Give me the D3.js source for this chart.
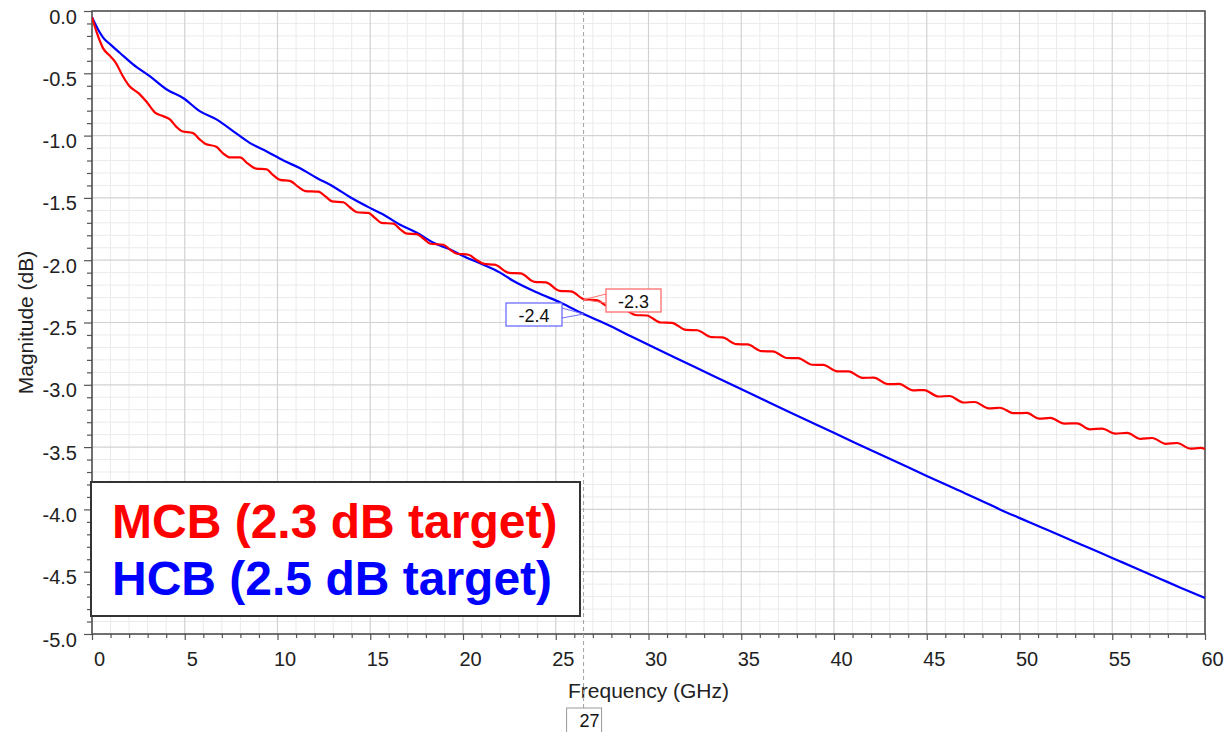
<!DOCTYPE html>
<html>
<head>
<meta charset="utf-8">
<script src="https://cdn.jsdelivr.net/npm/d3@7"></script>
<style>
  html, body { margin: 0; padding: 0; background: #ffffff; }
  svg { display: block; font-family: "Liberation Sans", Arial, sans-serif; }
</style>
</head>
<body>
<svg id="chart" width="1225" height="732"></svg>
<script>
// ---------------- data ----------------
const xTickValues = [0, 5, 10, 15, 20, 25, 30, 35, 40, 45, 50, 55, 60];
const yTickValues = [0, -0.5, -1.0, -1.5, -2.0, -2.5, -3.0, -3.5, -4.0, -4.5, -5.0];
const yTickLabels = ["0.0", "-0.5", "-1.0", "-1.5", "-2.0", "-2.5", "-3.0", "-3.5", "-4.0", "-4.5", "-5.0"];
const seriesNames = ["MCB (2.3 dB target)", "HCB (2.5 dB target)"];

const mcbFreq = [0.00, 0.25, 0.60, 1.00, 1.30, 1.65, 2.00, 2.55, 2.95, 3.40, 3.85, 4.20, 4.55, 4.85, 5.45,
  5.80, 6.10, 6.70, 7.05, 7.45, 7.98, 8.40, 8.85, 9.40, 9.75, 10.14, 10.70, 11.10, 11.50, 12.20,
  12.60, 12.95, 13.55, 13.90, 14.28, 14.90, 15.25, 15.60, 16.25, 16.60, 16.97, 17.50, 17.90, 18.25,
  18.95, 19.30, 19.68, 20.30, 20.70, 21.14, 21.70, 22.50, 23.10, 23.86, 24.46, 25.22, 25.82, 26.58,
  27.18, 27.94, 28.54, 29.30, 29.90, 30.66, 31.26, 32.02, 32.62, 33.38, 33.98, 34.74, 35.34, 36.10,
  36.70, 37.46, 38.06, 38.82, 39.42, 40.18, 40.78, 41.54, 42.14, 42.90, 43.50, 44.26, 44.86, 45.62,
  46.22, 46.98, 47.58, 48.34, 48.94, 49.70, 50.40, 51.06, 51.66, 52.42, 53.10, 53.80, 54.45, 55.16,
  55.80, 56.52, 57.15, 57.88, 58.50, 59.22, 59.76, 60.00];
const mcbMag = [-0.050, -0.170, -0.300, -0.365, -0.420, -0.520, -0.600, -0.665, -0.730, -0.815, -0.845, -0.870, -0.930, -0.965, -0.980,
  -1.030, -1.065, -1.090, -1.140, -1.175, -1.175, -1.225, -1.265, -1.270, -1.315, -1.355, -1.365, -1.410, -1.445, -1.450,
  -1.490, -1.528, -1.535, -1.575, -1.615, -1.620, -1.660, -1.700, -1.707, -1.750, -1.787, -1.790, -1.830, -1.868,
  -1.876, -1.915, -1.948, -1.956, -1.995, -2.030, -2.036, -2.102, -2.106, -2.174, -2.178, -2.246, -2.250, -2.317,
  -2.321, -2.379, -2.383, -2.440, -2.444, -2.500, -2.503, -2.559, -2.562, -2.617, -2.620, -2.674, -2.676, -2.730,
  -2.732, -2.785, -2.786, -2.839, -2.840, -2.892, -2.892, -2.944, -2.943, -2.995, -2.993, -3.045, -3.042, -3.094,
  -3.090, -3.142, -3.138, -3.189, -3.184, -3.228, -3.226, -3.272, -3.266, -3.311, -3.309, -3.357, -3.351, -3.392,
  -3.386, -3.434, -3.427, -3.474, -3.467, -3.513, -3.507, -3.515];

const hcbFreq = [0.00, 0.30, 0.61, 1.00, 1.51, 2.23, 3.13, 4.03, 4.93, 5.83, 6.73, 7.62, 8.52, 9.42, 10.32,
  11.22, 12.12, 13.02, 13.92, 14.82, 15.72, 16.61, 17.51, 18.41, 19.31, 20.20, 21.10, 22.00, 22.70, 24.00,
  25.30, 26.50, 27.80, 29.05, 30.30, 31.50, 33.00, 34.50, 36.00, 37.50, 39.00, 40.50, 42.00, 43.50, 45.00,
  46.50, 48.00, 48.97, 50.05, 51.13, 52.20, 53.28, 54.36, 55.44, 56.52, 57.60, 58.68, 60.00];
const hcbMag = [-0.050, -0.140, -0.215, -0.270, -0.337, -0.430, -0.525, -0.630, -0.700, -0.806, -0.872, -0.966, -1.060, -1.127, -1.200,
  -1.262, -1.340, -1.410, -1.495, -1.568, -1.635, -1.715, -1.780, -1.860, -1.915, -1.980, -2.036, -2.100, -2.165, -2.260,
  -2.343, -2.432, -2.518, -2.610, -2.700, -2.786, -2.893, -3.000, -3.106, -3.212, -3.317, -3.421, -3.525, -3.628, -3.731,
  -3.833, -3.934, -4.002, -4.072, -4.141, -4.210, -4.279, -4.348, -4.418, -4.488, -4.558, -4.628, -4.711];

const markerFreq = 26.5;
const markerLabel = "27";
const markerValues = [-2.317, -2.432];
const markerTexts = ["-2.3", "-2.4"];

(function () {
// ---------------- layout ----------------
const svg = d3.select("#chart");
const pL = 92, pR = 1205, pT = 11, pB = 634;
const x = d3.scaleLinear().domain([0, 60]).range([pL, pR]);
const y = d3.scaleLinear().domain([-5, 0]).range([pB, pT]);
const colors = ["#ff0000", "#0000ff"];

svg.append("rect").attr("width", 1225).attr("height", 732).attr("fill", "#fff");

// grid
const minorX = d3.range(0, 61).filter(v => v % 5 !== 0);
const minorY = d3.range(0, 51).filter(v => v % 5 !== 0).map(v => -v / 10);
const grid = svg.append("g");
grid.selectAll(".mx").data(minorX).join("line")
  .attr("x1", d => x(d)).attr("x2", d => x(d)).attr("y1", pT).attr("y2", pB)
  .attr("stroke", "#ebebeb").attr("stroke-width", 1);
grid.selectAll(".my").data(minorY).join("line")
  .attr("y1", d => y(d)).attr("y2", d => y(d)).attr("x1", pL).attr("x2", pR)
  .attr("stroke", "#ebebeb").attr("stroke-width", 1);
grid.selectAll(".Mx").data(xTickValues).join("line")
  .attr("x1", d => x(d)).attr("x2", d => x(d)).attr("y1", pT).attr("y2", pB)
  .attr("stroke", "#d2d2d2").attr("stroke-width", 1.2);
grid.selectAll(".My").data(yTickValues).join("line")
  .attr("y1", d => y(d)).attr("y2", d => y(d)).attr("x1", pL).attr("x2", pR)
  .attr("stroke", "#d2d2d2").attr("stroke-width", 1.2);

// axes
const yMinorAxis = svg.append("g").attr("transform", `translate(${pL},0)`)
  .call(d3.axisLeft(y).tickValues(minorY).tickSize(5).tickFormat(""));
const yAxis = svg.append("g").attr("transform", `translate(${pL},0)`)
  .call(d3.axisLeft(y).tickValues(yTickValues).tickSize(8).tickPadding(7)
    .tickFormat((d, i) => yTickLabels[i]));
const xMinorAxis = svg.append("g").attr("transform", `translate(0,${pB})`)
  .call(d3.axisBottom(x).tickValues(minorX).tickSize(4).tickFormat(""));
const xAxis = svg.append("g").attr("transform", `translate(0,${pB})`)
  .call(d3.axisBottom(x).tickValues(xTickValues).tickSize(6).tickPadding(12).tickFormat(d3.format("d")));
[yMinorAxis, yAxis, xMinorAxis, xAxis].forEach(g => {
  g.select(".domain").remove();
  g.selectAll("line").attr("stroke", "#555").attr("stroke-width", 1.2);
});
yAxis.selectAll("text").attr("font-size", 20).attr("fill", "#222").attr("dy", "0.6em")
  .attr("font-family", "Liberation Sans, Arial, sans-serif");
xAxis.selectAll("text").attr("font-size", 20).attr("fill", "#222").attr("dx", 7)
  .attr("font-family", "Liberation Sans, Arial, sans-serif");

// frame
svg.append("rect").attr("x", pL).attr("y", pT).attr("width", pR - pL).attr("height", pB - pT)
  .attr("fill", "none").attr("stroke", "#4a4a4a").attr("stroke-width", 1.5);

// axis titles
svg.append("text").attr("x", (pL + pR) / 2).attr("y", 698).attr("text-anchor", "middle")
  .attr("font-size", 21).attr("fill", "#222").text("Frequency (GHz)");
svg.append("text").attr("transform", `translate(33,${(pT + pB) / 2}) rotate(-90)`)
  .attr("text-anchor", "middle").attr("font-size", 21).attr("fill", "#222").text("Magnitude (dB)");

// marker vertical line
svg.append("line").attr("x1", x(markerFreq)).attr("x2", x(markerFreq)).attr("y1", pT).attr("y2", 708)
  .attr("stroke", "#a0a0a0").attr("stroke-width", 1).attr("stroke-dasharray", "4,3");

// curves
svg.append("clipPath").attr("id", "clip").append("rect")
  .attr("x", pL).attr("y", pT).attr("width", pR - pL).attr("height", pB - pT);
const line = d3.line().x(d => x(d[0])).y(d => y(d[1])).curve(d3.curveMonotoneX);
const mcb = mcbFreq.map((f, i) => [f, mcbMag[i]]);
const hcb = hcbFreq.map((f, i) => [f, hcbMag[i]]);
const curves = svg.append("g").attr("clip-path", "url(#clip)");
curves.append("path").datum(hcb).attr("d", line).attr("fill", "none")
  .attr("stroke", colors[1]).attr("stroke-width", 2.2).attr("stroke-linejoin", "round");
curves.append("path").datum(mcb).attr("d", line).attr("fill", "none")
  .attr("stroke", colors[0]).attr("stroke-width", 2.2).attr("stroke-linejoin", "round");

// marker callouts
const mx = x(markerFreq);
const my0 = y(markerValues[0]), my1 = y(markerValues[1]);
const rb = { x: 606, y: 289, w: 55, h: 23 };
svg.append("path").attr("d", `M${mx},${my0} L${rb.x},${rb.y + 5} M${mx},${my0} L${rb.x},${rb.y + 14}`)
  .attr("stroke", "#ff7070").attr("stroke-width", 1).attr("fill", "none");
svg.append("rect").attr("x", rb.x).attr("y", rb.y).attr("width", rb.w).attr("height", rb.h)
  .attr("fill", "#fff").attr("stroke", "#ff6060").attr("stroke-width", 1.2);
svg.append("text").attr("x", rb.x + rb.w / 2).attr("y", rb.y + 19).attr("text-anchor", "middle")
  .attr("font-size", 18).attr("fill", "#111").text(markerTexts[0]);
const bb = { x: 506, y: 303, w: 56, h: 23 };
svg.append("path").attr("d", `M${mx},${my1} L${bb.x + bb.w},${bb.y + 5} M${mx},${my1} L${bb.x + bb.w},${bb.y + 15}`)
  .attr("stroke", "#7070ff").attr("stroke-width", 1).attr("fill", "none");
svg.append("rect").attr("x", bb.x).attr("y", bb.y).attr("width", bb.w).attr("height", bb.h)
  .attr("fill", "#fff").attr("stroke", "#6060ff").attr("stroke-width", 1.2);
svg.append("text").attr("x", bb.x + bb.w / 2).attr("y", bb.y + 19).attr("text-anchor", "middle")
  .attr("font-size", 18).attr("fill", "#111").text(markerTexts[1]);

// marker frequency box
svg.append("rect").attr("x", mx - 17).attr("y", 708).attr("width", 35).attr("height", 30)
  .attr("fill", "#fff").attr("stroke", "#999").attr("stroke-width", 1);
svg.append("text").attr("x", mx + 6).attr("y", 727).attr("text-anchor", "middle")
  .attr("font-size", 18).attr("fill", "#111").text(markerLabel);

// legend
const lg = svg.append("g");
lg.append("rect").attr("x", 91).attr("y", 482).attr("width", 489).attr("height", 134)
  .attr("fill", "#fff").attr("stroke", "#333").attr("stroke-width", 2);
seriesNames.forEach((name, i) => {
  lg.append("text").attr("x", 112).attr("y", 538 + i * 57)
    .attr("font-size", 48).attr("font-weight", "bold").attr("fill", colors[i]).text(name);
});
})();
</script>
</body>
</html>
